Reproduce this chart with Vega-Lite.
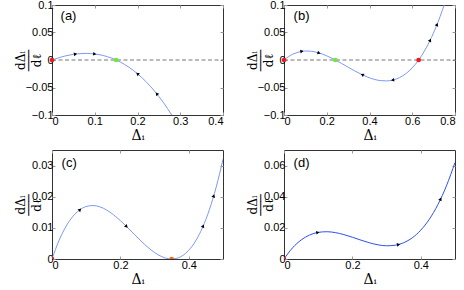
{
  "$schema": "https://vega.github.io/schema/vega-lite/v6.json",
  "background": "white",
  "padding": {"left": 13, "top": -3, "right": 0, "bottom": 0},
  "bounds": "flush",
  "columns": 2,
  "spacing": {"row": 35, "column": 61},
  "config": {
    "view": {"stroke": "#333", "strokeWidth": 1},
    "axis": {"labelFont": "Liberation Sans", "labelFontSize": 11, "labelColor": "#000", "tickColor": "#999", "tickSize": -3, "domain": false, "grid": false, "titleFont": "DejaVu Serif", "titleFontWeight": "normal", "titleColor": "#000"},
    "axisBottom": {"titleFontSize": 14, "titlePadding": 2, "labelPadding": 3},
    "axisLeft": {"titleFontSize": 12, "titleLineHeight": 8, "titleX": -25, "labelPadding": 2}
  },
  "datasets": {
    "curves": [
      {"p": "a", "x": 0, "y": 0}, {"p": "a", "x": 0.02, "y": 0.00508}, {"p": "a", "x": 0.04, "y": 0.00886}, {"p": "a", "x": 0.06, "y": 0.0112}, {"p": "a", "x": 0.08, "y": 0.01196}, {"p": "a", "x": 0.1, "y": 0.01098}, {"p": "a", "x": 0.12, "y": 0.00813}, {"p": "a", "x": 0.14, "y": 0.00325}, {"p": "a", "x": 0.15, "y": 0}, {"p": "a", "x": 0.16, "y": -0.00381}, {"p": "a", "x": 0.18, "y": -0.01318}, {"p": "a", "x": 0.2, "y": -0.02501}, {"p": "a", "x": 0.22, "y": -0.03945}, {"p": "a", "x": 0.24, "y": -0.05666}, {"p": "a", "x": 0.26, "y": -0.07676}, {"p": "a", "x": 0.28, "y": -0.09992}, {"p": "a", "x": 0.29, "y": -0.1127},
      {"p": "b", "x": 0, "y": 0}, {"p": "b", "x": 0.02, "y": 0.005905}, {"p": "b", "x": 0.04, "y": 0.01038}, {"p": "b", "x": 0.06, "y": 0.01354}, {"p": "b", "x": 0.08, "y": 0.01549}, {"p": "b", "x": 0.1, "y": 0.01632}, {"p": "b", "x": 0.12, "y": 0.01616}, {"p": "b", "x": 0.14, "y": 0.01509}, {"p": "b", "x": 0.16, "y": 0.01324}, {"p": "b", "x": 0.18, "y": 0.01069}, {"p": "b", "x": 0.2, "y": 0.00757}, {"p": "b", "x": 0.22, "y": 0.00397}, {"p": "b", "x": 0.24, "y": 0}, {"p": "b", "x": 0.27, "y": -0.00642}, {"p": "b", "x": 0.3, "y": -0.01307}, {"p": "b", "x": 0.33, "y": -0.0196}, {"p": "b", "x": 0.36, "y": -0.02566}, {"p": "b", "x": 0.39, "y": -0.03089}, {"p": "b", "x": 0.42, "y": -0.03493}, {"p": "b", "x": 0.45, "y": -0.03742}, {"p": "b", "x": 0.48, "y": -0.03802}, {"p": "b", "x": 0.51, "y": -0.03635}, {"p": "b", "x": 0.54, "y": -0.03208}, {"p": "b", "x": 0.57, "y": -0.02483}, {"p": "b", "x": 0.6, "y": -0.01426}, {"p": "b", "x": 0.63, "y": 0}, {"p": "b", "x": 0.66, "y": 0.0183}, {"p": "b", "x": 0.69, "y": 0.041}, {"p": "b", "x": 0.72, "y": 0.06843}, {"p": "b", "x": 0.74, "y": 0.08954}, {"p": "b", "x": 0.76, "y": 0.113},
      {"p": "c", "x": 0, "y": 0}, {"p": "c", "x": 0.02, "y": 0.00581}, {"p": "c", "x": 0.04, "y": 0.01028}, {"p": "c", "x": 0.06, "y": 0.01354}, {"p": "c", "x": 0.08, "y": 0.01569}, {"p": "c", "x": 0.1, "y": 0.01686}, {"p": "c", "x": 0.12, "y": 0.01717}, {"p": "c", "x": 0.14, "y": 0.01675}, {"p": "c", "x": 0.16, "y": 0.01571}, {"p": "c", "x": 0.18, "y": 0.01419}, {"p": "c", "x": 0.2, "y": 0.01231}, {"p": "c", "x": 0.22, "y": 0.0102}, {"p": "c", "x": 0.24, "y": 0.00799}, {"p": "c", "x": 0.26, "y": 0.00581}, {"p": "c", "x": 0.28, "y": 0.00379}, {"p": "c", "x": 0.3, "y": 0.00208}, {"p": "c", "x": 0.32, "y": 0.0008}, {"p": "c", "x": 0.34, "y": 0.000095}, {"p": "c", "x": 0.35, "y": 0}, {"p": "c", "x": 0.36, "y": 0.0001}, {"p": "c", "x": 0.38, "y": 0.000958}, {"p": "c", "x": 0.4, "y": 0.00281}, {"p": "c", "x": 0.42, "y": 0.0058}, {"p": "c", "x": 0.44, "y": 0.01007}, {"p": "c", "x": 0.46, "y": 0.01577}, {"p": "c", "x": 0.48, "y": 0.02304}, {"p": "c", "x": 0.5, "y": 0.03203},
      {"p": "d", "x": 0, "y": 0}, {"p": "d", "x": 0.025, "y": 0.00715}, {"p": "d", "x": 0.05, "y": 0.0122}, {"p": "d", "x": 0.075, "y": 0.01542}, {"p": "d", "x": 0.1, "y": 0.0171}, {"p": "d", "x": 0.125, "y": 0.01752}, {"p": "d", "x": 0.15, "y": 0.01695}, {"p": "d", "x": 0.175, "y": 0.01567}, {"p": "d", "x": 0.2, "y": 0.01397}, {"p": "d", "x": 0.225, "y": 0.01212}, {"p": "d", "x": 0.25, "y": 0.0104}, {"p": "d", "x": 0.275, "y": 0.0091}, {"p": "d", "x": 0.3, "y": 0.00848}, {"p": "d", "x": 0.325, "y": 0.00884}, {"p": "d", "x": 0.35, "y": 0.01045}, {"p": "d", "x": 0.375, "y": 0.01358}, {"p": "d", "x": 0.4, "y": 0.01853}, {"p": "d", "x": 0.425, "y": 0.02556}, {"p": "d", "x": 0.45, "y": 0.03496}, {"p": "d", "x": 0.475, "y": 0.04701}, {"p": "d", "x": 0.5, "y": 0.06198}
    ],
    "arrows": [
      {"p": "a", "x": 0.055, "y": 0.01076, "heading": 351}, {"p": "a", "x": 0.1, "y": 0.01098, "heading": 7}, {"p": "a", "x": 0.2, "y": -0.02501, "heading": 220}, {"p": "a", "x": 0.245, "y": -0.0614, "heading": 230},
      {"p": "b", "x": 0.084, "y": 0.01574, "heading": 352}, {"p": "b", "x": 0.164, "y": 0.01278, "heading": 17}, {"p": "b", "x": 0.366, "y": -0.02678, "heading": 205}, {"p": "b", "x": 0.508, "y": -0.03654, "heading": 167}, {"p": "b", "x": 0.684, "y": 0.03608, "heading": 296}, {"p": "b", "x": 0.716, "y": 0.06448, "heading": 292},
      {"p": "c", "x": 0.082, "y": 0.01584, "heading": 316}, {"p": "c", "x": 0.218, "y": 0.01041, "heading": 44}, {"p": "c", "x": 0.442, "y": 0.01057, "heading": 294}, {"p": "c", "x": 0.473, "y": 0.0203, "heading": 287},
      {"p": "d", "x": 0.099, "y": 0.01706, "heading": 349}, {"p": "d", "x": 0.335, "y": 0.0093, "heading": 350}, {"p": "d", "x": 0.458, "y": 0.0385, "heading": 297}
    ],
    "fixed": [
      {"p": "a", "x": 0, "y": 0, "kind": "unstable"}, {"p": "a", "x": 0.15, "y": 0, "kind": "stable"},
      {"p": "b", "x": 0, "y": 0, "kind": "unstable"}, {"p": "b", "x": 0.24, "y": 0, "kind": "stable"}, {"p": "b", "x": 0.63, "y": 0, "kind": "unstable"},
      {"p": "c", "x": 0, "y": 0, "kind": "unstable"}, {"p": "c", "x": 0.35, "y": 0, "kind": "semistable"},
      {"p": "d", "x": 0, "y": 0, "kind": "unstable"}
    ],
    "labels": [
      {"p": "a", "x": 0.02, "y": 0.08, "t": "(a)"}, {"p": "b", "x": 0.045, "y": 0.08, "t": "(b)"}, {"p": "c", "x": 0.028, "y": 0.0307, "t": "(c)"}, {"p": "d", "x": 0.028, "y": 0.0615, "t": "(d)"}
    ],
    "zero": [
      {"p": "a", "x": 0, "y": 0}, {"p": "a", "x": 0.4, "y": 0}, {"p": "b", "x": 0, "y": 0}, {"p": "b", "x": 0.8, "y": 0}
    ]
  },
  "concat": [
    {
      "width": 171, "height": 110,
      "encoding": {
        "x": {"field": "x", "type": "quantitative", "scale": {"domain": [0, 0.4], "nice": false, "zero": false}, "axis": null},
        "y": {"field": "y", "type": "quantitative", "scale": {"domain": [-0.1, 0.1], "nice": false, "zero": false}, "axis": null}
      },
      "layer": [
        {"data": {"name": "zero"}, "transform": [{"filter": "datum.p === 'a'"}], "mark": {"type": "line", "color": "#777", "strokeDash": [4, 2.5], "strokeWidth": 1}, "encoding": {}},
        {"data": {"name": "curves"}, "transform": [{"filter": "datum.p === 'a'"}], "mark": {"type": "line", "color": "#7f98f2", "strokeWidth": 1, "interpolate": "monotone", "clip": true},
          "encoding": {
            "x": {"field": "x", "type": "quantitative", "scale": {"domain": [0, 0.4], "nice": false, "zero": false}, "axis": {"values": [0, 0.1, 0.2, 0.3, 0.4], "format": "~g", "title": "Δᵢ"}},
            "y": {"field": "y", "type": "quantitative", "scale": {"domain": [-0.1, 0.1], "nice": false, "zero": false}, "axis": {"values": [-0.1, -0.05, 0, 0.05, 0.1], "format": "~g", "title": ["dΔᵢ", "───", "dℓ"]}}
          }},
        {"data": {"name": "curves"}, "transform": [{"filter": "datum.p === 'a'"}], "mark": {"type": "line", "opacity": 0},
          "encoding": {
            "x": {"field": "x", "type": "quantitative", "scale": {"domain": [0, 0.4], "nice": false, "zero": false}, "axis": {"orient": "top", "values": [0, 0.1, 0.2, 0.3, 0.4], "labels": false, "title": null}},
            "y": {"field": "y", "type": "quantitative", "scale": {"domain": [-0.1, 0.1], "nice": false, "zero": false}, "axis": {"orient": "right", "values": [-0.1, -0.05, 0, 0.05, 0.1], "labels": false, "title": null}}
          }},
        {"data": {"name": "arrows"}, "transform": [{"filter": "datum.p === 'a'"}], "mark": {"type": "point", "shape": "triangle-right", "filled": true, "color": "#000", "size": 14, "opacity": 1},
          "encoding": {"angle": {"field": "heading", "type": "quantitative", "scale": null}}},
        {"data": {"name": "fixed"}, "transform": [{"filter": "datum.p === 'a'"}], "mark": {"type": "circle", "size": 22, "opacity": 1},
          "encoding": {"color": {"field": "kind", "type": "nominal", "scale": {"domain": ["unstable", "stable", "semistable"], "range": ["#f01818", "#6ee83a", "#ff6a10"]}, "legend": null}}},
        {"data": {"name": "labels"}, "transform": [{"filter": "datum.p === 'a'"}], "mark": {"type": "text", "align": "left", "baseline": "middle", "font": "Liberation Sans", "fontSize": 13},
          "encoding": {"text": {"field": "t"}}}
      ],
      "resolve": {"axis": {"x": "independent", "y": "independent"}}
    },
    {
      "width": 171, "height": 110,
      "encoding": {
        "x": {"field": "x", "type": "quantitative", "scale": {"domain": [0, 0.8], "nice": false, "zero": false}, "axis": null},
        "y": {"field": "y", "type": "quantitative", "scale": {"domain": [-0.1, 0.1], "nice": false, "zero": false}, "axis": null}
      },
      "layer": [
        {"data": {"name": "zero"}, "transform": [{"filter": "datum.p === 'b'"}], "mark": {"type": "line", "color": "#777", "strokeDash": [4, 2.5], "strokeWidth": 1}, "encoding": {}},
        {"data": {"name": "curves"}, "transform": [{"filter": "datum.p === 'b'"}], "mark": {"type": "line", "color": "#7f98f2", "strokeWidth": 1, "interpolate": "monotone", "clip": true},
          "encoding": {
            "x": {"field": "x", "type": "quantitative", "scale": {"domain": [0, 0.8], "nice": false, "zero": false}, "axis": {"values": [0, 0.2, 0.4, 0.6, 0.8], "format": "~g", "title": "Δᵢ"}},
            "y": {"field": "y", "type": "quantitative", "scale": {"domain": [-0.1, 0.1], "nice": false, "zero": false}, "axis": {"values": [-0.1, -0.05, 0, 0.05, 0.1], "format": "~g", "title": ["dΔᵢ", "───", "dℓ"]}}
          }},
        {"data": {"name": "curves"}, "transform": [{"filter": "datum.p === 'b'"}], "mark": {"type": "line", "opacity": 0},
          "encoding": {
            "x": {"field": "x", "type": "quantitative", "scale": {"domain": [0, 0.8], "nice": false, "zero": false}, "axis": {"orient": "top", "values": [0, 0.2, 0.4, 0.6, 0.8], "labels": false, "title": null}},
            "y": {"field": "y", "type": "quantitative", "scale": {"domain": [-0.1, 0.1], "nice": false, "zero": false}, "axis": {"orient": "right", "values": [-0.1, -0.05, 0, 0.05, 0.1], "labels": false, "title": null}}
          }},
        {"data": {"name": "arrows"}, "transform": [{"filter": "datum.p === 'b'"}], "mark": {"type": "point", "shape": "triangle-right", "filled": true, "color": "#000", "size": 14, "opacity": 1},
          "encoding": {"angle": {"field": "heading", "type": "quantitative", "scale": null}}},
        {"data": {"name": "fixed"}, "transform": [{"filter": "datum.p === 'b'"}], "mark": {"type": "circle", "size": 22, "opacity": 1},
          "encoding": {"color": {"field": "kind", "type": "nominal", "scale": {"domain": ["unstable", "stable", "semistable"], "range": ["#f01818", "#6ee83a", "#ff6a10"]}, "legend": null}}},
        {"data": {"name": "labels"}, "transform": [{"filter": "datum.p === 'b'"}], "mark": {"type": "text", "align": "left", "baseline": "middle", "font": "Liberation Sans", "fontSize": 13},
          "encoding": {"text": {"field": "t"}}}
      ],
      "resolve": {"axis": {"x": "independent", "y": "independent"}}
    },
    {
      "width": 171, "height": 109,
      "encoding": {
        "x": {"field": "x", "type": "quantitative", "scale": {"domain": [0, 0.5], "nice": false, "zero": false}, "axis": null},
        "y": {"field": "y", "type": "quantitative", "scale": {"domain": [0, 0.035], "nice": false, "zero": false}, "axis": null}
      },
      "layer": [
        {"data": {"name": "curves"}, "transform": [{"filter": "datum.p === 'c'"}], "mark": {"type": "line", "color": "#7f98f2", "strokeWidth": 1, "interpolate": "monotone", "clip": true},
          "encoding": {
            "x": {"field": "x", "type": "quantitative", "scale": {"domain": [0, 0.5], "nice": false, "zero": false}, "axis": {"values": [0, 0.2, 0.4], "format": "~g", "title": "Δᵢ"}},
            "y": {"field": "y", "type": "quantitative", "scale": {"domain": [0, 0.035], "nice": false, "zero": false}, "axis": {"values": [0, 0.01, 0.02, 0.03], "format": "~g", "title": ["dΔᵢ", "───", "dℓ"]}}
          }},
        {"data": {"name": "curves"}, "transform": [{"filter": "datum.p === 'c'"}], "mark": {"type": "line", "opacity": 0},
          "encoding": {
            "x": {"field": "x", "type": "quantitative", "scale": {"domain": [0, 0.5], "nice": false, "zero": false}, "axis": {"orient": "top", "values": [0, 0.2, 0.4], "labels": false, "title": null}},
            "y": {"field": "y", "type": "quantitative", "scale": {"domain": [0, 0.035], "nice": false, "zero": false}, "axis": {"orient": "right", "values": [0, 0.01, 0.02, 0.03], "labels": false, "title": null}}
          }},
        {"data": {"name": "arrows"}, "transform": [{"filter": "datum.p === 'c'"}], "mark": {"type": "point", "shape": "triangle-right", "filled": true, "color": "#000", "size": 14, "opacity": 1},
          "encoding": {"angle": {"field": "heading", "type": "quantitative", "scale": null}}},
        {"data": {"name": "fixed"}, "transform": [{"filter": "datum.p === 'c'"}], "mark": {"type": "circle", "size": 22, "opacity": 1, "clip": true},
          "encoding": {"color": {"field": "kind", "type": "nominal", "scale": {"domain": ["unstable", "stable", "semistable"], "range": ["#f01818", "#6ee83a", "#ff6a10"]}, "legend": null}}},
        {"data": {"name": "labels"}, "transform": [{"filter": "datum.p === 'c'"}], "mark": {"type": "text", "align": "left", "baseline": "middle", "font": "Liberation Sans", "fontSize": 13},
          "encoding": {"text": {"field": "t"}}}
      ],
      "resolve": {"axis": {"x": "independent", "y": "independent"}}
    },
    {
      "width": 171, "height": 109,
      "encoding": {
        "x": {"field": "x", "type": "quantitative", "scale": {"domain": [0, 0.5], "nice": false, "zero": false}, "axis": null},
        "y": {"field": "y", "type": "quantitative", "scale": {"domain": [0, 0.07], "nice": false, "zero": false}, "axis": null}
      },
      "layer": [
        {"data": {"name": "curves"}, "transform": [{"filter": "datum.p === 'd'"}], "mark": {"type": "line", "color": "#2f4ff2", "strokeWidth": 1, "interpolate": "monotone", "clip": true},
          "encoding": {
            "x": {"field": "x", "type": "quantitative", "scale": {"domain": [0, 0.5], "nice": false, "zero": false}, "axis": {"values": [0, 0.2, 0.4], "format": "~g", "title": "Δᵢ"}},
            "y": {"field": "y", "type": "quantitative", "scale": {"domain": [0, 0.07], "nice": false, "zero": false}, "axis": {"values": [0, 0.02, 0.04, 0.06], "format": "~g", "title": ["dΔᵢ", "───", "dℓ"]}}
          }},
        {"data": {"name": "curves"}, "transform": [{"filter": "datum.p === 'd'"}], "mark": {"type": "line", "opacity": 0},
          "encoding": {
            "x": {"field": "x", "type": "quantitative", "scale": {"domain": [0, 0.5], "nice": false, "zero": false}, "axis": {"orient": "top", "values": [0, 0.2, 0.4], "labels": false, "title": null}},
            "y": {"field": "y", "type": "quantitative", "scale": {"domain": [0, 0.07], "nice": false, "zero": false}, "axis": {"orient": "right", "values": [0, 0.02, 0.04, 0.06], "labels": false, "title": null}}
          }},
        {"data": {"name": "arrows"}, "transform": [{"filter": "datum.p === 'd'"}], "mark": {"type": "point", "shape": "triangle-right", "filled": true, "color": "#000", "size": 14, "opacity": 1},
          "encoding": {"angle": {"field": "heading", "type": "quantitative", "scale": null}}},
        {"data": {"name": "fixed"}, "transform": [{"filter": "datum.p === 'd'"}], "mark": {"type": "circle", "size": 22, "opacity": 1, "clip": true},
          "encoding": {"color": {"field": "kind", "type": "nominal", "scale": {"domain": ["unstable", "stable", "semistable"], "range": ["#f01818", "#6ee83a", "#ff6a10"]}, "legend": null}}},
        {"data": {"name": "labels"}, "transform": [{"filter": "datum.p === 'd'"}], "mark": {"type": "text", "align": "left", "baseline": "middle", "font": "Liberation Sans", "fontSize": 13},
          "encoding": {"text": {"field": "t"}}}
      ],
      "resolve": {"axis": {"x": "independent", "y": "independent"}}
    }
  ]
}
